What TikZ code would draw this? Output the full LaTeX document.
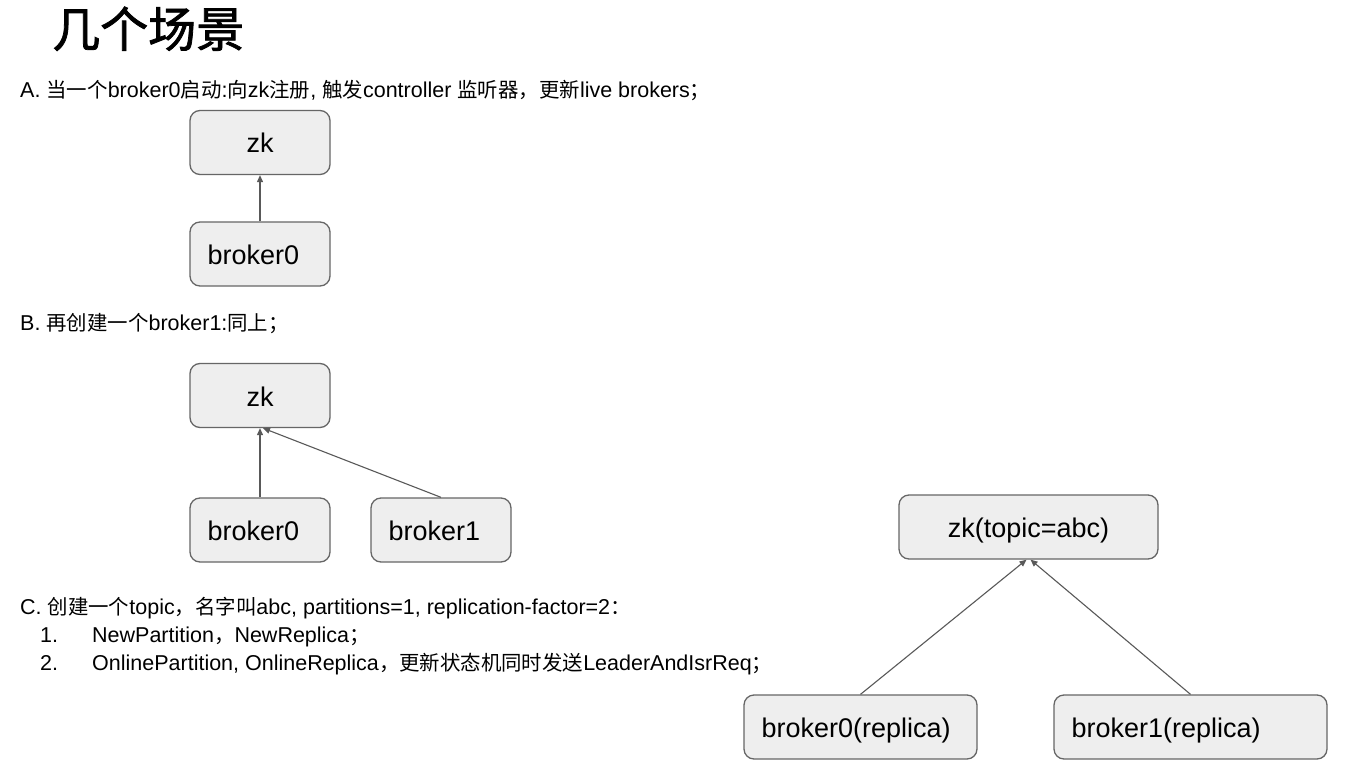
\documentclass[tikz,border=0pt]{standalone}
\usepackage{fontspec}
\setmainfont{Liberation Sans}
\newfontfamily\cjk{Noto Sans CJK SC}[Scale=0.95]
\newfontfamily\cjkt{Noto Sans CJK SC}[FakeBold=1.6]
\usetikzlibrary{arrows.meta}
\newcommand\zh[1]{{\cjk #1}}
\definecolor{boxfill}{HTML}{EEEEEE}
\definecolor{boxline}{HTML}{666666}
\definecolor{arrowcol}{HTML}{595959}
\tikzset{
  box/.style={draw=boxline, fill=boxfill, line width=1.3pt, rounded corners=10pt,
    minimum height=64pt, inner ysep=0pt, font=\fontsize{27}{30}\selectfont,
    text height=21pt, text depth=0pt},
  boxc/.style={box, inner xsep=0pt},
  boxl/.style={box, inner xsep=17.5pt},
  conn/.style={draw=arrowcol, line width=1.1pt, -{Triangle[length=7pt,width=6pt]}},
  txt/.style={anchor=base west, inner sep=0pt, font=\fontsize{21.5}{24}\selectfont},
  title/.style={anchor=base west, inner sep=0pt, font=\fontsize{48}{52}\selectfont\cjkt}
}
\begin{document}
\begin{tikzpicture}[x=1pt,y=-1pt]
\useasboundingbox (0,0) rectangle (1371,781);
\fill[white] (0,0) rectangle (1371,781);

\node[title] (t) at (52,47) {几个场景};

\node[txt] (la) at (20,98) {A. \zh{当一个}broker0\zh{启动}:\zh{向}zk\zh{注册}, \zh{触发}controller \zh{监听器，更新}live brokers\zh{；}};

\node[boxc, minimum width=140pt] (azk) at (260,142.5) {zk};
\node[boxl] (a0) at (260,254) {\makebox[105pt][l]{broker0}};
\draw[conn] (a0.north) -- (azk.south);

\node[txt] (lb) at (20,330) {B. \zh{再创建一个}broker1:\zh{同上；}};

\node[boxc, minimum width=140pt] (bzk) at (260,395.5) {zk};
\node[boxl] (b0) at (260,530) {\makebox[105pt][l]{broker0}};
\node[boxl] (b1) at (441,530) {\makebox[105pt][l]{broker1}};
\draw[conn] (b0.north) -- (bzk.south);
\draw[conn] (b1.north) -- ([xshift=3pt]bzk.south);

\node[txt] (lc) at (20,614) {C. \zh{创建一个}topic\zh{，名字叫}abc, partitions=1, replication-factor=2\zh{：}};
\node[txt] (n1) at (40,642) {1.};
\node[txt] (l1) at (92,642) {NewPartition\zh{，}NewReplica\zh{；}};
\node[txt] (n2) at (40,670) {2.};
\node[txt] (l2) at (92,670) {OnlinePartition, OnlineReplica\zh{，更新状态机同时发送}LeaderAndIsrReq\zh{；}};

\node[boxc, minimum width=259pt] (czk) at (1028.5,527) {zk(topic=abc)};
\node[boxl] (c0) at (860.5,727) {\makebox[198pt][l]{broker0(replica)}};
\node[boxl] (c1) at (1190.5,727) {\makebox[238pt][l]{broker1(replica)}};
\draw[conn] (c0.north) -- ([xshift=-2pt]czk.south);
\draw[conn] (c1.north) -- ([xshift=2pt]czk.south);
\end{tikzpicture}
\end{document}
